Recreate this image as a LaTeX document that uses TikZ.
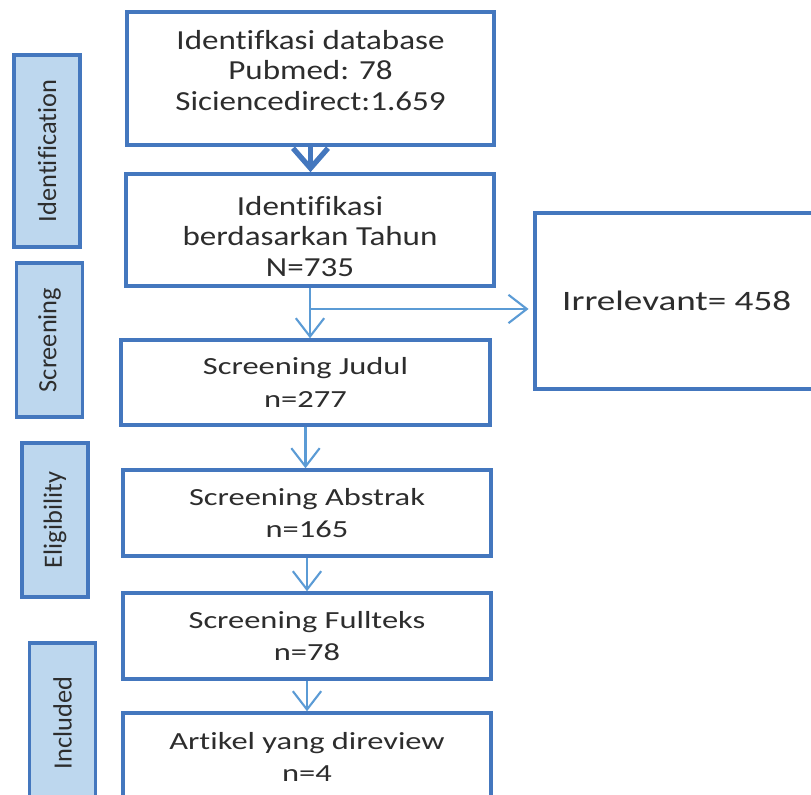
\documentclass[tikz,border=0pt]{standalone}
\usepackage{fontspec}
\setmainfont[Ligatures=NoCommon]{Carlito}
\newfontfamily\widefont[FakeStretch=1.2,Ligatures=NoCommon]{Carlito}
\newfontfamily\widerfont[FakeStretch=1.32,Ligatures=NoCommon]{Carlito}
\usetikzlibrary{arrows.meta,calc}
\definecolor{boxblue}{RGB}{68,119,190}
\definecolor{arrowblue}{RGB}{91,155,213}
\definecolor{labelfill}{RGB}{189,215,238}
\definecolor{txtgray}{RGB}{45,45,45}
\begin{document}
\begin{tikzpicture}[x=0.03cm,y=-0.03cm,
  stagebox/.style={draw=boxblue,line width=3pt,fill=white,minimum width=11.04cm,align=center,text=txtgray,font=\widerfont\fontsize{21}{28}\selectfont},
  phase/.style={draw=boxblue,line width=3pt,fill=labelfill,rotate=90,minimum height=1.98cm,text=txtgray,font=\fontsize{22.5}{24}\selectfont},
  thinarrow/.style={draw=arrowblue,line width=1.8pt,-{Straight Barb[length=0.55cm,width=0.85cm]}},
  bigarrow/.style={draw=boxblue,line width=4.5pt,-{Straight Barb[length=0.6cm,width=1.05cm]}}]
\useasboundingbox (0,0) rectangle (811,795);
\node[phase,minimum width=5.76cm] (identification) at (47,151) {Identification};
\node[phase,minimum width=4.62cm] (screening) at (49.5,340) {Screening};
\node[phase,minimum width=4.62cm] (eligibility) at (55,520) {Eligibility};
\node[phase,minimum width=4.8cm] (included) at (62.5,723) {Included};
\node[stagebox,minimum height=3.99cm,minimum width=11.01cm,text depth=14pt,font=\widefont\fontsize{23.5}{26}\selectfont] (database) at (310.5,78.5) {Identifkasi database\\Pubmed: 78\\Siciencedirect:1.659};
\node[stagebox,minimum height=3.3cm,text height=84pt,text depth=5pt,font=\widefont\fontsize{23.5}{26}\selectfont] (tahun) at (310,230) {Identifikasi\\berdasarkan Tahun\\N=735};
\node[stagebox,minimum height=2.55cm,minimum width=11.07cm] (judul) at (305.5,382.5) {Screening Judul\\n=277};
\node[stagebox,minimum height=2.58cm] (abstrak) at (307,513) {Screening Abstrak\\n=165};
\node[stagebox,minimum height=2.58cm] (fullteks) at (307,636) {Screening Fullteks\\n=78};
\node[stagebox,minimum height=2.64cm] (artikel) at (307,757) {Artikel yang direview\\n=4};
\node[stagebox,minimum height=5.28cm,minimum width=9cm,font=\widerfont\fontsize{24}{28}\selectfont] (irrelevant) at (685,301) {Irrelevant= 458\hspace{0.5cm}};
\draw[bigarrow] (database.south) -- (database.south |- tahun.north);
\draw[thinarrow] (tahun.south) -- (tahun.south |- judul.north);
\coordinate (split) at ($(tahun.south)!0.42!(tahun.south |- judul.north)$);
\draw[thinarrow,shorten >=4pt] (split) -- (split -| irrelevant.west);
\draw[thinarrow] (judul.south) -- (judul.south |- abstrak.north);
\draw[thinarrow] (abstrak.south) -- (abstrak.south |- fullteks.north);
\draw[thinarrow] (fullteks.south) -- (fullteks.south |- artikel.north);
\end{tikzpicture}
\end{document}
